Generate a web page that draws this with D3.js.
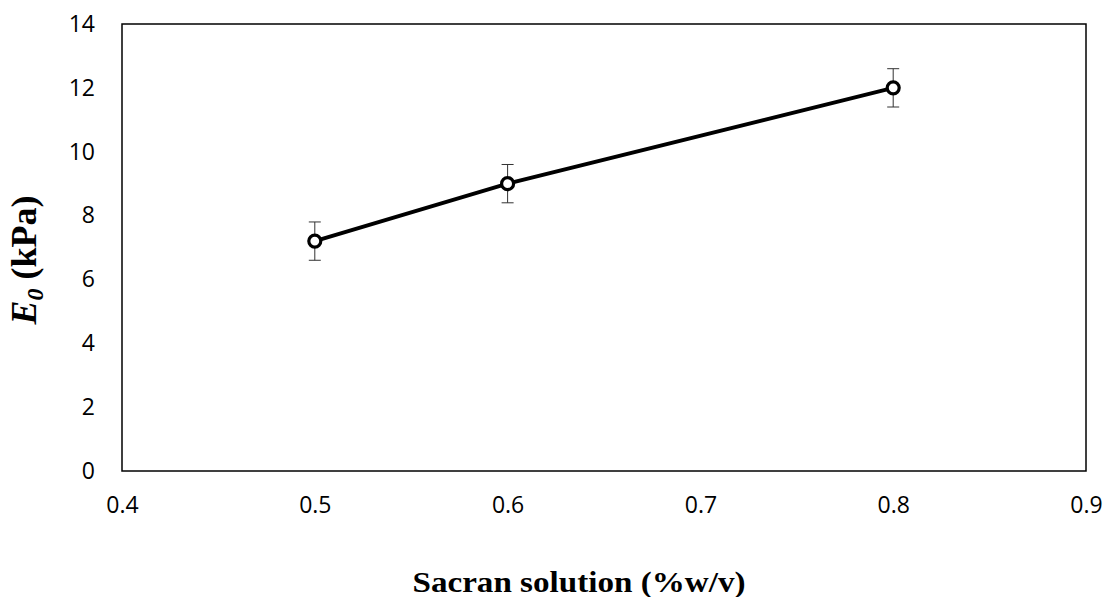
<!DOCTYPE html>
<html>
<head>
<meta charset="utf-8">
<script src="https://cdn.jsdelivr.net/npm/d3@7"></script>
<style>
  body { margin: 0; background: #fff; }
  .title { font-family: "Liberation Serif", "Times New Roman", serif; font-weight: bold; }
</style>
</head>
<body>
<svg width="1108" height="597"></svg>
<script>
// data
const conc = [0.5, 0.6, 0.8];
const modulus = [7.2, 9.0, 12.0];
const errs = [0.6, 0.6, 0.6];
const xTicks = [0.4, 0.5, 0.6, 0.7, 0.8, 0.9];
const yTicks = [0, 2, 4, 6, 8, 10, 12, 14];

const svg = d3.select("svg");
const plotL = 122, plotR = 1086, plotT = 24, plotB = 471;
const tickFont = "'Open Sans', sans-serif";

const x = d3.scaleLinear().domain([0.4, 0.9]).range([plotL, plotR]);
const y = d3.scaleLinear().domain([0, 14]).range([plotB, plotT]);

const pts = conc.map((c, i) => ({ x: c, y: modulus[i], e: errs[i] }));

// plot frame
svg.append("rect")
    .attr("x", plotL).attr("y", plotT)
    .attr("width", plotR - plotL).attr("height", plotB - plotT)
    .attr("fill", "none").attr("stroke", "#000").attr("stroke-width", 1.5);

// axes (labels only, frame draws the lines)
const xAxis = svg.append("g")
    .attr("transform", `translate(0,${plotB})`)
    .call(d3.axisBottom(x).tickValues(xTicks).tickFormat(d3.format(".1f")).tickSize(0).tickPadding(26));
xAxis.select(".domain").remove();

const yAxis = svg.append("g")
    .attr("transform", `translate(${plotL},0)`)
    .call(d3.axisLeft(y).tickValues(yTicks).tickSize(0).tickPadding(27));
yAxis.select(".domain").remove();

[xAxis, yAxis].forEach(g => g.attr("font-family", tickFont).attr("font-size", 23));
svg.selectAll(".tick text").attr("fill", "#000");

// error bars
const eb = svg.append("g").attr("stroke", "#333").attr("stroke-width", 1);
eb.selectAll(".ev").data(pts).enter().append("line")
    .attr("x1", d => x(d.x)).attr("x2", d => x(d.x))
    .attr("y1", d => y(d.y + d.e)).attr("y2", d => y(d.y - d.e));
eb.selectAll(".et").data(pts).enter().append("line")
    .attr("x1", d => x(d.x) - 6).attr("x2", d => x(d.x) + 6)
    .attr("y1", d => y(d.y + d.e)).attr("y2", d => y(d.y + d.e));
eb.selectAll(".eb").data(pts).enter().append("line")
    .attr("x1", d => x(d.x) - 6).attr("x2", d => x(d.x) + 6)
    .attr("y1", d => y(d.y - d.e)).attr("y2", d => y(d.y - d.e));

// line
svg.append("path")
    .datum(pts)
    .attr("fill", "none").attr("stroke", "#000").attr("stroke-width", 4)
    .attr("d", d3.line().x(d => x(d.x)).y(d => y(d.y)));

// markers
svg.selectAll(".pt").data(pts).enter().append("circle")
    .attr("cx", d => x(d.x)).attr("cy", d => y(d.y)).attr("r", 6)
    .attr("fill", "#fff").attr("stroke", "#000").attr("stroke-width", 3.2);

// titles
svg.append("text").attr("class", "title")
    .attr("x", 579).attr("y", 592)
    .attr("font-size", 29)
    .attr("text-anchor", "middle")
    .attr("textLength", 333).attr("lengthAdjust", "spacingAndGlyphs")
    .text("Sacran solution (%w/v)");

const yt = svg.append("text").attr("class", "title")
    .attr("font-size", 36)
    .attr("transform", "translate(36,260) rotate(-90)")
    .attr("text-anchor", "middle");
yt.append("tspan").attr("font-style", "italic").text("E");
yt.append("tspan").attr("font-style", "italic").attr("font-size", 24).attr("dy", 7).text("0");
yt.append("tspan").attr("dy", -7).text(" (kPa)");
</script>
</body>
</html>
